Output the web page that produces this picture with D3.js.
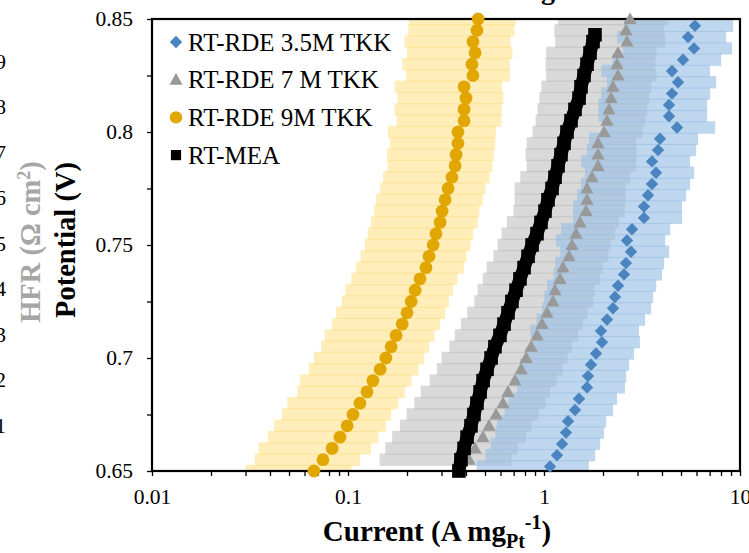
<!DOCTYPE html>
<html>
<head>
<meta charset="utf-8">
<script src="https://d3js.org/d3.v7.min.js"></script>
<style>
  body { margin:0; background:#fff; }
  svg { display:block; }
  text { font-family: "Liberation Serif", "Times New Roman", serif; }
</style>
</head>
<body>
<script>

/* Data */
/* ==== */

// RT-RDE 9M TKK
var potential9M = [0.650,0.655,0.660,0.665,0.670,0.675,0.680,0.685,0.690,0.695,0.700,0.705,0.710,0.715,0.720,0.725,0.730,0.735,0.740,0.745,0.750,0.755,0.760,0.765,0.770,0.775,0.780,0.785,0.790,0.795,0.800,0.805,0.810,0.815,0.820,0.825,0.830,0.835,0.840,0.845,0.850];
var current9M = [0.067,0.0745,0.083,0.091,0.099,0.106,0.115,0.125,0.134,0.146,0.156,0.166,0.176,0.189,0.200,0.210,0.220,0.233,0.250,0.259,0.272,0.281,0.295,0.302,0.313,0.324,0.339,0.352,0.356,0.364,0.364,0.391,0.391,0.400,0.391,0.434,0.429,0.445,0.434,0.455,0.461];
var err9M = [0.037,0.041,0.048,0.052,0.057,0.060,0.066,0.070,0.077,0.083,0.089,0.093,0.100,0.106,0.113,0.117,0.123,0.129,0.140,0.143,0.150,0.155,0.164,0.166,0.174,0.178,0.188,0.193,0.198,0.200,0.204,0.214,0.218,0.221,0.218,0.236,0.240,0.245,0.240,0.252,0.256];

// RT-RDE 7 M TKK
var potential7M = [0.655,0.660,0.665,0.670,0.675,0.680,0.685,0.690,0.695,0.700,0.705,0.710,0.715,0.720,0.725,0.730,0.735,0.740,0.745,0.750,0.755,0.760,0.765,0.770,0.775,0.780,0.785,0.790,0.795,0.800,0.805,0.810,0.815,0.820,0.825,0.830,0.835,0.840,0.845,0.850];
var current7M = [0.415,0.445,0.488,0.524,0.569,0.618,0.655,0.711,0.764,0.810,0.859,0.921,0.977,1.036,1.111,1.138,1.207,1.250,1.342,1.390,1.457,1.527,1.638,1.658,1.658,1.757,1.886,1.886,1.886,2.024,2.096,2.146,2.197,2.249,2.386,2.358,2.386,2.651,2.620,2.747];
var err7M = [0.27,0.29,0.32,0.34,0.37,0.40,0.42,0.45,0.48,0.51,0.53,0.57,0.60,0.63,0.67,0.68,0.72,0.74,0.79,0.81,0.85,0.88,0.94,0.95,0.95,1.00,1.07,1.08,1.07,1.15,1.19,1.22,1.25,1.28,1.36,1.34,1.36,1.51,1.49,1.57];

// RT-RDE 3.5M TKK
var potential3p5M = [0.652,0.657,0.662,0.667,0.672,0.677,0.682,0.687,0.692,0.697,0.702,0.707,0.712,0.717,0.722,0.727,0.732,0.737,0.742,0.747,0.752,0.757,0.762,0.767,0.772,0.777,0.782,0.787,0.792,0.797,0.802,0.807,0.812,0.817,0.822,0.827,0.832,0.837,0.842,0.847];
var current3p5M = [1.073,1.165,1.236,1.295,1.326,1.440,1.509,1.658,1.677,1.737,1.842,1.976,1.953,2.096,2.249,2.303,2.386,2.559,2.620,2.779,2.651,2.812,3.237,3.237,3.393,3.556,3.728,3.556,3.817,3.907,4.771,4.343,4.343,4.499,4.827,4.499,5.120,5.824,5.429,5.893];
var err3p5M = [0.62,0.66,0.70,0.73,0.75,0.81,0.85,0.93,0.95,0.98,1.04,1.11,1.10,1.18,1.27,1.30,1.35,1.44,1.48,1.57,1.50,1.59,1.83,1.83,1.92,2.01,2.11,2.01,2.16,2.21,2.70,2.45,2.45,2.54,2.73,2.54,2.89,3.29,3.07,3.33];

// RT-MEA
var potentialMEA = [0.650,0.655,0.660,0.665,0.670,0.675,0.680,0.685,0.690,0.695,0.700,0.705,0.710,0.715,0.720,0.725,0.730,0.735,0.740,0.745,0.750,0.755,0.760,0.765,0.770,0.775,0.780,0.785,0.790,0.795,0.800,0.805,0.810,0.815,0.820,0.825,0.830,0.835,0.840,0.843];
var currentMEA = [0.368,0.377,0.391,0.405,0.424,0.439,0.455,0.472,0.489,0.512,0.537,0.562,0.596,0.625,0.655,0.686,0.720,0.754,0.791,0.829,0.869,0.921,0.965,1.012,1.048,1.099,1.138,1.179,1.221,1.265,1.310,1.373,1.439,1.509,1.545,1.600,1.658,1.717,1.778,1.820];

var legendLabels = ['RT-RDE 3.5M TKK', 'RT-RDE 7 M TKK', 'RT-RDE 9M TKK', 'RT-MEA'];
var xTickLabels = [0.01, 0.1, 1, 10];
var yTickLabels = [0.65, 0.7, 0.75, 0.8, 0.85];
var hfrTickLabels = [1, 2, 3, 4, 5, 6, 7, 8, 9];


/* Set up */
/* ====== */

var serif = '"Liberation Serif", "Times New Roman", serif';

var width = 749,
    height = 553,
    margin = { top: 19, right: 9, bottom: 82, left: 152 };

var svg = d3.select('body')
  .append('svg')
    .attr('width', width)
    .attr('height', height)
    .attr('font-family', serif);

var x = d3.scaleLog()
    .domain([0.01, 10])
    .range([margin.left, width - margin.right]);

var y = d3.scaleLinear()
    .domain([0.65, 0.85])
    .range([height - margin.bottom, margin.top]);

var shapes = {
  diamond: 'M0,-6.2L6.2,0L0,6.2L-6.2,0Z',
  triangle: 'M0,-6.8L6.6,5L-6.6,5Z',
  square: 'M-6.8,-6.8H6.8V6.8H-6.8Z'
};

var series = [
  { name: legendLabels[0], p: potential3p5M, v: current3p5M, e: err3p5M,
    color: '#4a85c0', bar: '#96bfe4', barOpacity: 0.62, shape: 'diamond' },
  { name: legendLabels[1], p: potential7M, v: current7M, e: err7M,
    color: '#999999', bar: '#b4b4b4', barOpacity: 0.5, shape: 'triangle' },
  { name: legendLabels[2], p: potential9M, v: current9M, e: err9M,
    color: '#e2a600', bar: '#ffd766', barOpacity: 0.45, shape: 'circle' },
  { name: legendLabels[3], p: potentialMEA, v: currentMEA, e: null,
    color: '#000000', shape: 'square' }
];

function rows(s) {
  return s.p.map(function(p, i) {
    return { p: p, v: s.v[i], e: s.e ? s.e[i] : 0 };
  });
}

svg.append('clipPath')
    .attr('id', 'plot-clip')
  .append('rect')
    .attr('x', x.range()[0])
    .attr('y', y.range()[1])
    .attr('width', x.range()[1] - x.range()[0])
    .attr('height', y.range()[0] - y.range()[1]);


/* Error bars */
/* ========== */

var barOrder = [series[2], series[1], series[0]];

svg.append('g')
    .attr('clip-path', 'url(#plot-clip)')
  .selectAll('g')
  .data(barOrder)
  .enter()
  .append('g')
    .attr('fill', function(s) { return s.bar; })
    .attr('fill-opacity', function(s) { return s.barOpacity; })
  .selectAll('rect')
  .data(function(s) { return rows(s); })
  .enter()
  .append('rect')
    .attr('x', function(d) { return x(Math.max(d.v - d.e, 0.005)); })
    .attr('width', function(d) { return x(d.v + d.e) - x(Math.max(d.v - d.e, 0.005)); })
    .attr('y', function(d) { return y(d.p) - 6.2; })
    .attr('height', 12.4);


/* Axes */
/* ==== */

var xTicks = [];
[0.01, 0.1, 1].forEach(function(dec) {
  for (var k = 1; k < 10; k++) xTicks.push(dec * k);
});
xTicks.push(10);

var xAxis = d3.axisBottom(x)
    .tickValues(xTicks)
    .tickSize(5)
    .tickPadding(13)
    .tickFormat(function(d) {
      var hit = xTickLabels.find(function(t) { return Math.abs(t - d) < t * 1e-6; });
      return hit !== undefined ? String(hit) : '';
    });

var yAxis = d3.axisLeft(y)
    .tickValues(d3.range(0, 9).map(function(i) { return 0.65 + i * 0.025; }))
    .tickSize(5)
    .tickPadding(14)
    .tickFormat(function(d) {
      var hit = yTickLabels.find(function(t) { return Math.abs(t - d) < 1e-6; });
      return hit !== undefined ? String(hit) : '';
    });

var gx = svg.append('g')
    .attr('transform', 'translate(0,' + y.range()[0] + ')')
    .call(xAxis);

var gy = svg.append('g')
    .attr('transform', 'translate(' + x.range()[0] + ',0)')
    .call(yAxis);

[gx, gy].forEach(function(g) {
  g.attr('font-family', serif).attr('font-size', 21.5);
  g.select('.domain').remove();
  g.selectAll('.tick line').attr('stroke', '#000').attr('stroke-width', 1.3);
  g.selectAll('.tick text').attr('fill', '#000');
});

// plot frame
svg.append('rect')
    .attr('x', x.range()[0])
    .attr('y', y.range()[1])
    .attr('width', x.range()[1] - x.range()[0])
    .attr('height', y.range()[0] - y.range()[1])
    .attr('fill', 'none')
    .attr('stroke', '#000')
    .attr('stroke-width', 2.2);


/* Markers */
/* ======= */

var mea = series[3];

svg.append('path')
    .datum(rows(mea))
    .attr('fill', 'none')
    .attr('stroke', '#000')
    .attr('stroke-width', 13)
    .attr('d', d3.line()
      .x(function(d) { return x(d.v); })
      .y(function(d) { return y(d.p); }));

series.forEach(function(s) {
  var g = svg.append('g').attr('fill', s.color);
  if (s.shape === 'circle') {
    g.selectAll('circle')
      .data(rows(s))
      .enter()
      .append('circle')
        .attr('cx', function(d) { return x(d.v); })
        .attr('cy', function(d) { return y(d.p); })
        .attr('r', 6.4);
  } else {
    g.selectAll('path')
      .data(rows(s))
      .enter()
      .append('path')
        .attr('d', shapes[s.shape])
        .attr('transform', function(d) {
          return 'translate(' + x(d.v) + ',' + y(d.p) + ')';
        });
  }
});


/* Legend */
/* ====== */

var legend = svg.append('g')
    .attr('transform', 'translate(176,42)');

var item = legend.selectAll('g')
    .data(series)
    .enter()
  .append('g')
    .attr('transform', function(d, i) { return 'translate(0,' + (i * 37.7) + ')'; });

item.each(function(s) {
  var g = d3.select(this);
  if (s.shape === 'circle') {
    g.append('circle').attr('r', 6.2).attr('fill', s.color);
  } else {
    var sc = s.shape === 'square' ? 0.75 : 1;
    g.append('path')
        .attr('d', shapes[s.shape])
        .attr('transform', 'scale(' + sc + ')')
        .attr('fill', s.color);
  }
});

item.append('text')
    .attr('x', 12)
    .attr('y', 8.5)
    .attr('font-family', serif)
    .attr('font-size', 25)
    .text(function(s) { return s.name; });


/* Titles */
/* ====== */

var xTitle = svg.append('text')
    .attr('x', 437)
    .attr('y', 541)
    .attr('text-anchor', 'middle')
    .attr('font-family', serif)
    .attr('font-size', 29)
    .attr('font-weight', 'bold');
xTitle.append('tspan').text('Current (A mg');
xTitle.append('tspan').attr('dy', 7).attr('font-size', 20).text('Pt');
xTitle.append('tspan').attr('dy', -19).attr('font-size', 20).text('-1');
xTitle.append('tspan').attr('dy', 12).text(')');

svg.append('text')
    .attr('transform', 'translate(75,240) rotate(-90)')
    .attr('text-anchor', 'middle')
    .attr('font-family', serif)
    .attr('font-size', 28.5)
    .attr('font-weight', 'bold')
    .text('Potential (V)');

// neighbouring chart's HFR axis, cut at the left edge
var hfr = d3.scaleLinear().domain([0, 10]).range([471, 15.5]);

var hfrTitle = svg.append('text')
    .attr('transform', 'translate(40,242) rotate(-90)')
    .attr('text-anchor', 'middle')
    .attr('fill', '#a6a6a6')
    .attr('font-family', serif)
    .attr('font-size', 28.5)
    .attr('font-weight', 'bold');
hfrTitle.append('tspan').text('HFR (\u03A9 cm');
hfrTitle.append('tspan').attr('dy', -10).attr('font-size', 18).text('2');
hfrTitle.append('tspan').attr('dy', 10).text(')');

svg.append('g')
  .selectAll('text')
  .data(hfrTickLabels)
  .enter()
  .append('text')
    .attr('x', 6)
    .attr('y', function(d) { return hfr(d); })
    .attr('dy', '0.35em')
    .attr('text-anchor', 'end')
    .attr('font-family', serif)
    .attr('font-size', 21.5)
    .text(function(d) { return d; });

// bottom of the cut-off chart title
svg.append('text')
    .attr('x', 548)
    .attr('y', -1)
    .attr('text-anchor', 'middle')
    .attr('font-family', serif)
    .attr('font-size', 28)
    .attr('font-weight', 'bold')
    .text('g');

</script>
</body>
</html>
